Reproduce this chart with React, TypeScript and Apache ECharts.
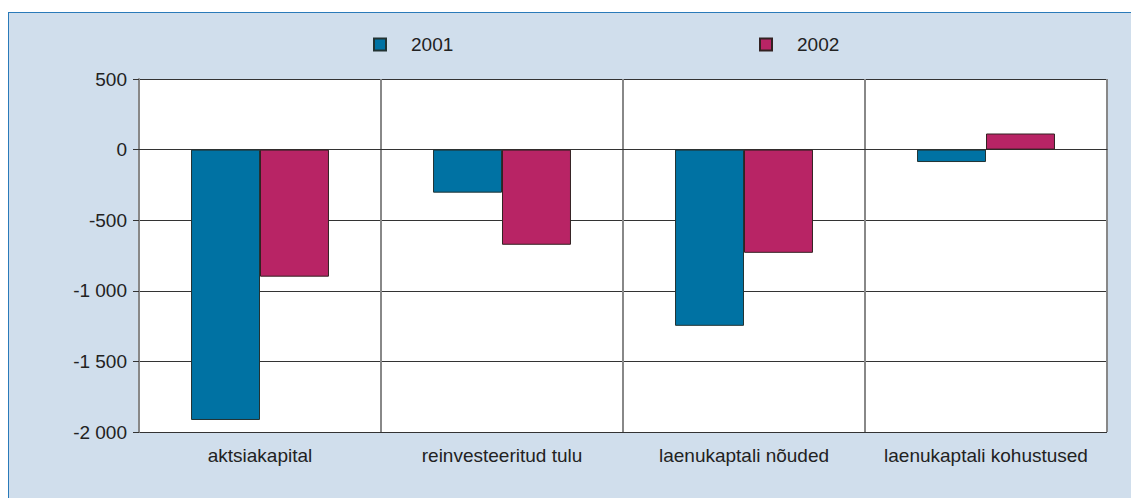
import React, { useEffect, useRef } from "react";
import * as echarts from "echarts";

const categories = ["aktsiakapital", "reinvesteeritud tulu", "laenukaptali nõuded", "laenukaptali kohustused"];
const values2001 = [-1915, -305, -1248, -88];
const values2002 = [-900, -674, -731, 114];
const seriesNames = ["2001", "2002"];
const yTicks = { min: -2000, max: 500, interval: 500 };

function fmt(v: number): string {
  const s = Math.abs(v).toString().replace(/\B(?=(\d{3})+(?!\d))/g, " ");
  return (v < 0 ? "-" : "") + s;
}

export default function App() {
  const ref = useRef<HTMLDivElement>(null);
  useEffect(() => {
    if (!ref.current) return;
    const chart = echarts.init(ref.current, undefined, { renderer: "svg" });
    const font = "'Liberation Sans', Arial, sans-serif";
    const legendCommon = {
      top: 35,
      itemWidth: 12,
      itemHeight: 12,
      icon: "rect",
      padding: 0,
      textStyle: { fontSize: 19, color: "#222", fontFamily: font, padding: [0, 0, 0, 20] },
    };
    chart.setOption({
      animation: false,
      textStyle: { fontFamily: font },
      legend: [
        { ...legendCommon, left: 373, data: [seriesNames[0]] },
        { ...legendCommon, left: 759, data: [seriesNames[1]] },
      ],
      grid: { left: 139, top: 79, right: 24, bottom: 66, containLabel: false, show: true, backgroundColor: "#ffffff", borderWidth: 0 },
      xAxis: {
        type: "category",
        data: categories,
        axisLine: { show: true, lineStyle: { color: "#333", width: 1 } },
        axisTick: { show: false },
        splitLine: { show: true, lineStyle: { color: "#888", width: 2 } },
        axisLabel: { fontSize: 19, color: "#222", margin: 14, fontFamily: font, interval: 0 },
      },
      yAxis: {
        type: "value",
        min: yTicks.min,
        max: yTicks.max,
        interval: yTicks.interval,
        axisLine: { show: true, lineStyle: { color: "#888", width: 2 } },
        axisTick: { show: true, length: 6, lineStyle: { color: "#333" } },
        splitLine: { show: true, lineStyle: { color: "#333", width: 1 } },
        axisLabel: { fontSize: 19, color: "#222", margin: 12, fontFamily: font, formatter: (v: number) => fmt(v) },
      },
      series: [
        {
          name: seriesNames[0],
          type: "bar",
          data: values2001,
          barGap: "0%",
          barCategoryGap: "43%",
          itemStyle: { color: "#0072A3", borderColor: "#233", borderWidth: 1 },
        },
        {
          name: seriesNames[1],
          type: "bar",
          data: values2002,
          barGap: "0%",
          barCategoryGap: "43%",
          itemStyle: { color: "#B82465", borderColor: "#322", borderWidth: 1 },
        },
      ],
    });
    return () => chart.dispose();
  }, []);
  return (
    <div style={{ position: "absolute", left: 0, top: 0, width: 1131, height: 498, overflow: "hidden" }}>
      <div
        style={{
          position: "absolute",
          left: 8,
          top: 12,
          right: 0,
          bottom: 0,
          background: "#d0deec",
          borderTop: "1px solid #2a7ab9",
          borderLeft: "1px solid #2a7ab9",
        }}
      />
      <div ref={ref} style={{ position: "absolute", left: 0, top: 0, width: 1131, height: 498 }} />
    </div>
  );
}
